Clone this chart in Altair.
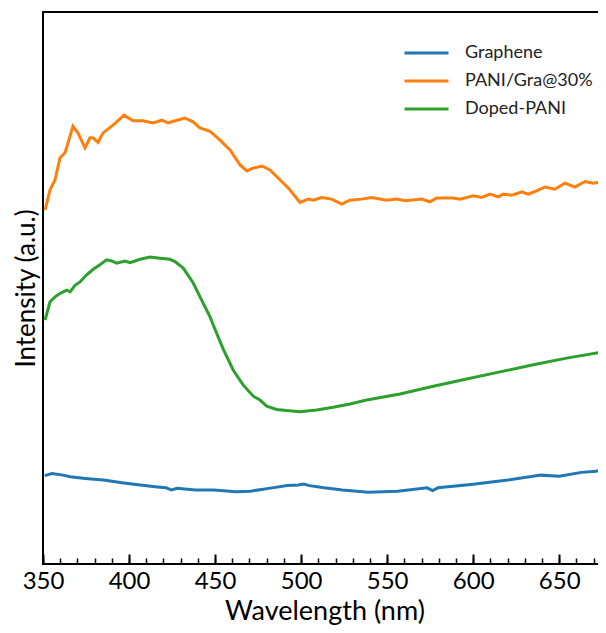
import altair as alt
import pandas as pd

# Graphene
g_wl = [351.0, 355.2, 361.6, 365.9, 374.5, 385.2, 395.9, 406.5, 415.1, 421.5, 424.7, 427.9,
        438.6, 449.3, 462.1, 470.6, 481.3, 492.0, 498.4, 501.6, 504.8, 513.4, 524.0, 539.0,
        556.1, 573.2, 576.4, 579.5, 598.8, 620.2, 639.4, 650.1, 662.9, 671.5, 677.2]
g_int = [0.160, 0.164, 0.161, 0.158, 0.155, 0.152, 0.147, 0.143, 0.140, 0.138, 0.134, 0.137,
         0.134, 0.134, 0.131, 0.132, 0.137, 0.142, 0.143, 0.145, 0.142, 0.138, 0.134, 0.130,
         0.132, 0.138, 0.133, 0.138, 0.144, 0.152, 0.161, 0.159, 0.166, 0.168, 0.173]

# PANI/Gra@30%
p_wl = [351.2, 354.1, 357.0, 359.9, 362.8, 367.4, 370.3, 374.4, 377.3, 379.1, 382.0, 384.9,
        390.7, 397.1, 402.3, 408.1, 413.9, 419.1, 422.6, 427.9, 432.5, 437.2, 441.2, 447.0,
        452.9, 458.7, 464.5, 468.5, 472.0, 477.3, 481.9, 487.7, 493.5, 499.3, 504.2, 506.9,
        512.0, 517.8, 523.6, 528.4, 535.2, 541.0, 549.7, 555.5, 560.4, 570.1, 574.9, 578.8,
        588.4, 592.3, 600.1, 605.0, 609.8, 614.6, 617.5, 622.4, 628.2, 632.0, 636.9, 641.7,
        647.5, 653.3, 659.1, 665.0, 669.8, 672.7, 677.2]
p_int = [0.641, 0.678, 0.696, 0.736, 0.745, 0.793, 0.781, 0.754, 0.772, 0.772, 0.764, 0.781,
         0.795, 0.813, 0.803, 0.803, 0.799, 0.804, 0.799, 0.804, 0.808, 0.801, 0.790, 0.784,
         0.768, 0.750, 0.723, 0.712, 0.717, 0.721, 0.714, 0.696, 0.678, 0.655, 0.661, 0.659,
         0.664, 0.661, 0.652, 0.659, 0.661, 0.664, 0.659, 0.661, 0.658, 0.661, 0.656, 0.663,
         0.663, 0.661, 0.667, 0.664, 0.670, 0.665, 0.670, 0.668, 0.674, 0.670, 0.676, 0.683,
         0.679, 0.690, 0.683, 0.693, 0.690, 0.691, 0.697]

# Doped-PANI
d_wl = [351.2, 354.1, 357.0, 359.9, 361.8, 363.8, 365.7, 368.6, 371.5, 375.4, 379.2, 383.1,
        387.0, 389.9, 392.8, 397.6, 400.6, 406.4, 412.2, 418.0, 423.8, 426.7, 431.5, 437.3,
        442.2, 447.0, 450.9, 454.8, 460.6, 466.4, 472.2, 476.1, 480.0, 485.8, 491.6, 499.3,
        509.0, 518.7, 528.4, 538.1, 557.5, 576.8, 596.2, 615.6, 634.9, 654.3, 676.6]
d_int = [0.442, 0.475, 0.484, 0.490, 0.493, 0.496, 0.493, 0.505, 0.511, 0.524, 0.534, 0.542,
         0.551, 0.549, 0.545, 0.549, 0.546, 0.552, 0.556, 0.554, 0.552, 0.548, 0.536, 0.509,
         0.478, 0.448, 0.418, 0.389, 0.351, 0.324, 0.304, 0.297, 0.286, 0.280, 0.278, 0.276,
         0.279, 0.284, 0.290, 0.297, 0.308, 0.322, 0.335, 0.348, 0.361, 0.373, 0.385]

series = ["Graphene", "PANI/Gra@30%", "Doped-PANI"]
colors = ["#1f77b4", "#ff7f0e", "#2ca02c"]
major_ticks = [350, 400, 450, 500, 550, 600, 650]
minor_ticks = list(range(350, 680, 10))

rows = []
for name, wl, it in zip(series, [g_wl, p_wl, d_wl], [g_int, p_int, d_int]):
    for i, (w, v) in enumerate(zip(wl, it)):
        rows.append({"series": name, "wavelength": w, "intensity": v, "order": i})
df = pd.DataFrame(rows)

FONT = "Lato"
xscale = alt.Scale(domain=[350, 677.2], nice=False, zero=False)
yscale = alt.Scale(domain=[0, 1], nice=False, zero=False)

lines = alt.Chart(df).mark_line(strokeWidth=3, clip=True).encode(
    x=alt.X("wavelength:Q", scale=xscale,
            axis=alt.Axis(orient="bottom", values=major_ticks, offset=-10, tickSize=10,
                          tickWidth=2, tickColor="black", domain=False, grid=False,
                          labelFontSize=24, labelFont=FONT, labelColor="black",
                          labelPadding=5, labelFlush=False, format="d",
                          title="Wavelength (nm)", titleFontSize=27, titleFont=FONT,
                          titleFontWeight="normal", titleColor="black",
                          titleY=57, titleBaseline="middle")),
    y=alt.Y("intensity:Q", scale=yscale,
            axis=alt.Axis(domain=False, ticks=False, labels=False, grid=False,
                          title="Intensity (a.u.)", titleFontSize=26, titleFont=FONT,
                          titleFontWeight="normal", titleColor="black", titlePadding=4)),
    color=alt.Color("series:N",
                    scale=alt.Scale(domain=series, range=colors),
                    legend=alt.Legend(orient="none", legendX=360, legendY=27, title=None,
                                      symbolType="stroke", symbolSize=1936,
                                      symbolStrokeWidth=3, labelFontSize=18,
                                      labelFont=FONT, labelColor="#222222",
                                      labelOffset=15, clipHeight=28, rowPadding=0,
                                      padding=0)),
    order="order:Q",
)

minor = alt.Chart(df).mark_line(opacity=0).encode(
    x=alt.X("wavelength:Q", scale=xscale,
            axis=alt.Axis(orient="bottom", values=minor_ticks, offset=-6, tickSize=6,
                          tickWidth=1.5, tickColor="black", domain=False, grid=False,
                          labels=False, title=None)),
    y=alt.Y("intensity:Q", scale=yscale),
    detail="series:N",
)

chart = alt.layer(lines, minor).resolve_axis(x="independent").properties(
    width=563, height=552,
    background="white",
    autosize=alt.AutoSizeParams(type="none"),
    padding={"left": 35, "top": 4, "right": -8, "bottom": 61},
).configure_view(stroke="black", strokeWidth=2)

chart.save("out.html", embed_options={"renderer": "svg", "actions": False})
